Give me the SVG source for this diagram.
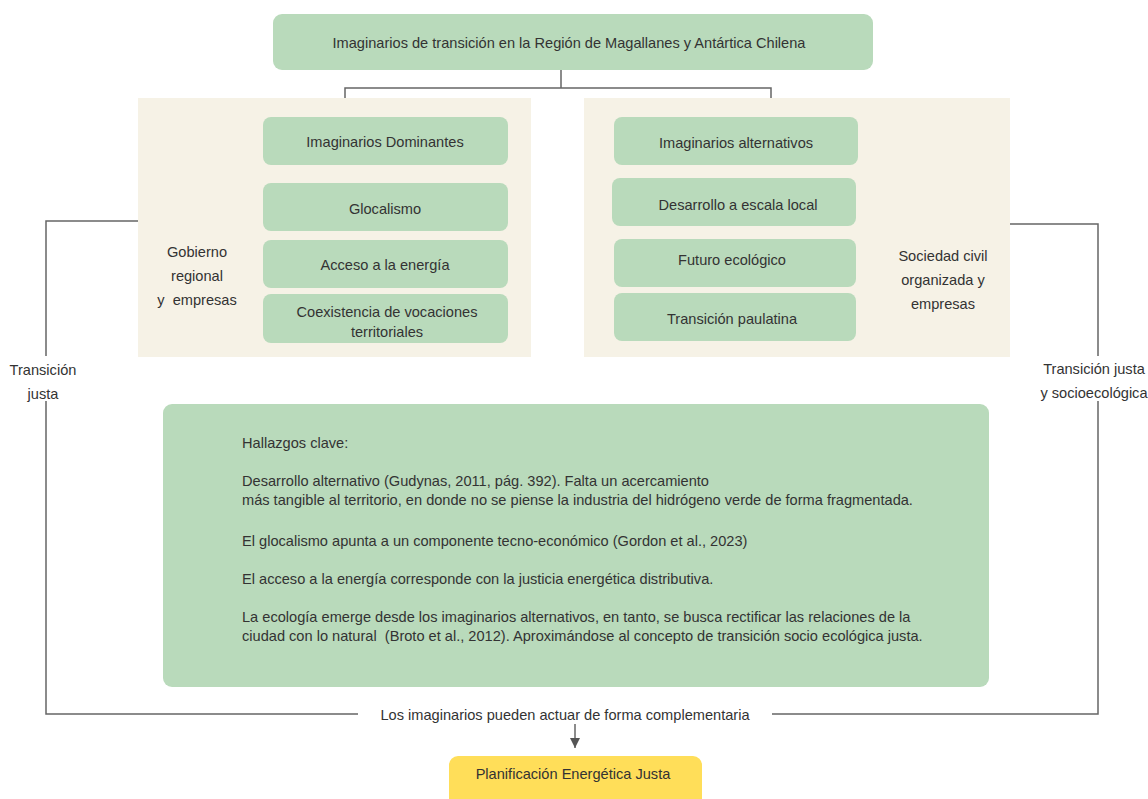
<svg xmlns="http://www.w3.org/2000/svg" width="1148" height="799" viewBox="0 0 1148 799">
<defs>
<style>
.g{fill:#b9dabb}
.p{fill:#f6f2e6}
.t{font-family:"Liberation Sans",Arial,sans-serif;font-size:14.6px;fill:#333;text-anchor:middle;white-space:pre}
.tl{font-family:"Liberation Sans",Arial,sans-serif;font-size:14.6px;fill:#333;white-space:pre}
.ln{fill:none;stroke:#666;stroke-width:1.5}
</style>
<marker id="ah" viewBox="0 0 10 10" refX="10" refY="5" markerWidth="10" markerHeight="10" markerUnits="userSpaceOnUse" orient="auto"><path d="M0,0 L10,5 L0,10 z" fill="#555"/></marker>
</defs>
<rect width="1148" height="799" fill="#fff"/>
<g id="panel-left"><rect class="p" x="138" y="98" width="393" height="259"/></g>
<g id="panel-right"><rect class="p" x="584" y="98" width="426" height="259"/></g>
<g id="connectors">
<path class="ln" d="M561,70 V88 M345,98 V88 H771 V98"/>
<path class="ln" d="M138,221 H46 V356 M46,401 V714 H358 M772,714 H1098 V401 M1098,356 V224 H1010"/>
<path class="ln" d="M575,724 V748" marker-end="url(#ah)"/>
</g>
<g id="top"><rect class="g" x="273" y="14" width="600" height="56" rx="9"/><text class="t" x="569" y="48">Imaginarios de transición en la Región de Magallanes y Antártica Chilena</text></g>
<g id="dom"><rect class="g" x="263" y="117" width="245" height="48" rx="8"/><text class="t" x="385" y="147">Imaginarios Dominantes</text></g>
<g id="gloc"><rect class="g" x="263" y="183" width="245" height="48" rx="8"/><text class="t" x="385" y="214">Glocalismo</text></g>
<g id="acceso"><rect class="g" x="263" y="240" width="245" height="48" rx="8"/><text class="t" x="385" y="270">Acceso a la energía</text></g>
<g id="coex"><rect class="g" x="263" y="294" width="245" height="49" rx="8"/><text class="t" x="387" y="317">Coexistencia de vocaciones</text><text class="t" x="387" y="337">territoriales</text></g>
<g id="alt"><rect class="g" x="614" y="117" width="244" height="48" rx="8"/><text class="t" x="736" y="148">Imaginarios alternativos</text></g>
<g id="desarrollo"><rect class="g" x="612" y="178" width="244" height="48" rx="8"/><text class="t" x="738" y="210">Desarrollo a escala local</text></g>
<g id="futuro"><rect class="g" x="614" y="239" width="242" height="48" rx="8"/><text class="t" x="732" y="265">Futuro ecológico</text></g>
<g id="trans"><rect class="g" x="614" y="293" width="242" height="48" rx="8"/><text class="t" x="732" y="324">Transición paulatina</text></g>
<g id="lbl-gob"><text class="t" x="197" y="257">Gobierno</text><text class="t" x="197" y="281">regional</text><text class="t" x="197" y="305" xml:space="preserve">y  empresas</text></g>
<g id="lbl-soc"><text class="t" x="943" y="261">Sociedad civil</text><text class="t" x="943" y="285">organizada y</text><text class="t" x="943" y="309">empresas</text></g>
<g id="lbl-tj"><text class="t" x="43" y="375">Transición</text><text class="t" x="43" y="399">justa</text></g>
<g id="lbl-tjs"><text class="t" x="1094" y="374">Transición justa</text><text class="t" x="1094" y="398">y socioecológica</text></g>
<g id="hallazgos"><rect class="g" x="163" y="404" width="826" height="283" rx="9"/>
<text class="tl" x="242" y="448">Hallazgos clave:</text>
<text class="tl" x="242" y="486">Desarrollo alternativo (Gudynas, 2011, pág. 392). Falta un acercamiento</text>
<text class="tl" x="242" y="505">más tangible al territorio, en donde no se piense la industria del hidrógeno verde de forma fragmentada.</text>
<text class="tl" x="242" y="546">El glocalismo apunta a un componente tecno-económico (Gordon et al., 2023)</text>
<text class="tl" x="242" y="584">El acceso a la energía corresponde con la justicia energética distributiva.</text>
<text class="tl" x="242" y="622">La ecología emerge desde los imaginarios alternativos, en tanto, se busca rectificar las relaciones de la</text>
<text class="tl" x="242" y="641" xml:space="preserve">ciudad con lo natural  (Broto et al., 2012). Aproximándose al concepto de transición socio ecológica justa.</text>
</g>
<g id="lbl-comp"><text class="t" x="565" y="720">Los imaginarios pueden actuar de forma complementaria</text></g>
<g id="plan"><rect x="449" y="756" width="253" height="60" rx="9" fill="#ffde59"/><text class="t" x="573" y="779">Planificación Energética Justa</text></g>
</svg>
